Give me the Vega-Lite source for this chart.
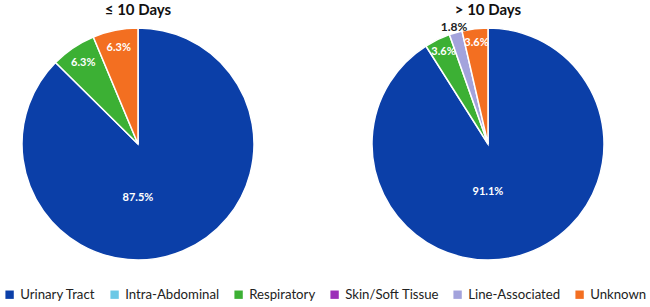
{
  "$schema": "https://vega.github.io/schema/vega-lite/v6.json",
  "padding": {"left": 3, "right": 0, "top": 3, "bottom": 0},
  "background": "white",
  "data": {"values": [
    {"group": "le10", "cat": "Urinary Tract", "ord": 1, "pct": 87.5, "label": "87.5%"},
    {"group": "le10", "cat": "Respiratory", "ord": 3, "pct": 6.3, "label": "6.3%"},
    {"group": "le10", "cat": "Unknown", "ord": 6, "pct": 6.3, "label": "6.3%"},
    {"group": "gt10", "cat": "Urinary Tract", "ord": 1, "pct": 91.1, "label": "91.1%"},
    {"group": "gt10", "cat": "Respiratory", "ord": 3, "pct": 3.6, "label": "3.6%"},
    {"group": "gt10", "cat": "Line-Associated", "ord": 5, "pct": 1.8, "label": "1.8%"},
    {"group": "gt10", "cat": "Unknown", "ord": 6, "pct": 3.6, "label": "3.6%"}
  ]},
  "config": {
    "view": {"stroke": null},
    "font": "Lato",
    "concat": {"spacing": 80},
    "title": {"fontSize": 15, "fontWeight": "bold", "color": "#111111", "offset": -6},
    "legend": {
      "orient": "bottom", "direction": "horizontal", "title": null,
      "symbolType": "square", "symbolSize": 70, "symbolStrokeWidth": 0,
      "labelFontSize": 13.2, "labelColor": "#222222", "columnPadding": 12,
      "labelOffset": 4, "offset": 12, "labelLimit": 200
    }
  },
  "hconcat": [
    {
      "width": 270, "height": 264,
      "title": "≤ 10 Days",
      "transform": [{"filter": "datum.group == 'le10'"}],
      "layer": [
        {
          "mark": {"type": "arc", "outerRadius": 116, "stroke": "white", "strokeWidth": 1.5},
          "encoding": {
            "theta": {"field": "pct", "type": "quantitative", "stack": true},
            "order": {"field": "ord", "type": "quantitative"},
            "color": {"field": "cat", "type": "nominal",
              "scale": {"domain": ["Urinary Tract", "Intra-Abdominal", "Respiratory", "Skin/Soft Tissue", "Line-Associated", "Unknown"],
                        "range": ["#0b3fa8", "#6cc8e6", "#3cb034", "#9b2fb8", "#a3a3dc", "#f36f21"]}}
          }
        },
        {
          "mark": {"type": "text", "radius": 98, "fontSize": 11, "fontWeight": "bold", "color": "white"},
          "encoding": {
            "theta": {"field": "pct", "type": "quantitative", "stack": true},
            "order": {"field": "ord", "type": "quantitative"},
            "detail": {"field": "cat"},
            "text": {"condition": {"test": "datum.cat != 'Urinary Tract'", "field": "label"}, "value": ""}
          }
        },
        {
          "transform": [{"filter": "datum.cat == 'Urinary Tract'"}],
          "mark": {"type": "text", "theta": 3.14159, "radius": 54, "fontSize": 11, "fontWeight": "bold", "color": "white"},
          "encoding": {"text": {"field": "label"}}
        }
      ]
    },
    {
      "width": 270, "height": 264,
      "title": "> 10 Days",
      "transform": [{"filter": "datum.group == 'gt10'"}],
      "layer": [
        {
          "mark": {"type": "arc", "outerRadius": 116, "stroke": "white", "strokeWidth": 1.5},
          "encoding": {
            "theta": {"field": "pct", "type": "quantitative", "stack": true},
            "order": {"field": "ord", "type": "quantitative"},
            "color": {"field": "cat", "type": "nominal",
              "scale": {"domain": ["Urinary Tract", "Intra-Abdominal", "Respiratory", "Skin/Soft Tissue", "Line-Associated", "Unknown"],
                        "range": ["#0b3fa8", "#6cc8e6", "#3cb034", "#9b2fb8", "#a3a3dc", "#f36f21"]}}
          }
        },
        {
          "mark": {"type": "text", "radius": 102, "fontSize": 11, "fontWeight": "bold", "color": "white"},
          "encoding": {
            "theta": {"field": "pct", "type": "quantitative", "stack": true},
            "order": {"field": "ord", "type": "quantitative"},
            "detail": {"field": "cat"},
            "text": {"condition": {"test": "datum.cat != 'Urinary Tract' && datum.pct >= 3", "field": "label"}, "value": ""}
          }
        },
        {
          "mark": {"type": "text", "radius": 122, "fontSize": 12, "fontWeight": "bold", "color": "#222222"},
          "encoding": {
            "theta": {"field": "pct", "type": "quantitative", "stack": true},
            "order": {"field": "ord", "type": "quantitative"},
            "detail": {"field": "cat"},
            "text": {"condition": {"test": "datum.pct < 3", "field": "label"}, "value": ""}
          }
        },
        {
          "transform": [{"filter": "datum.cat == 'Urinary Tract'"}],
          "mark": {"type": "text", "theta": 3.14159, "radius": 48, "fontSize": 11, "fontWeight": "bold", "color": "white"},
          "encoding": {"text": {"field": "label"}}
        }
      ]
    }
  ]
}
